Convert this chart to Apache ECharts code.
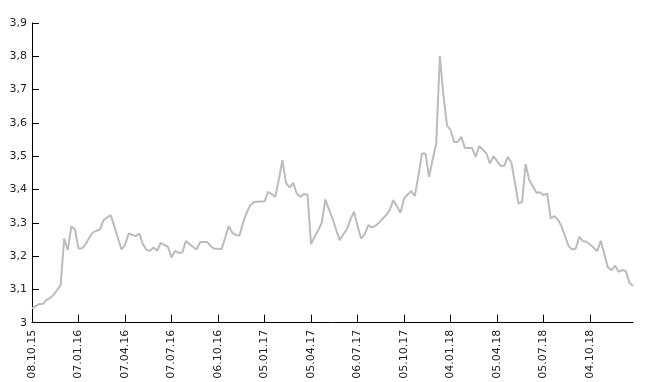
<!DOCTYPE html>
<html><head><meta charset="utf-8">
<script src="https://cdn.jsdelivr.net/npm/echarts@6/dist/echarts.min.js"></script>
<style>html,body{margin:0;padding:0;background:#fff}#c{width:653px;height:382px}</style>
</head><body><div id="c"></div>
<script>
// Tick labels shown on the x axis (every 13th weekly point)
const tickLabels = ['08.10.15','07.01.16','07.04.16','07.07.16','06.10.16','05.01.17','05.04.17','06.07.17','05.10.17','04.01.18','05.04.18','05.07.18','04.10.18'];
const startDate = [2015, 9, 8]; // 08.10.15, weekly observations
const pointCount = 169;
const values = [
3.043,3.05,3.056,3.056,3.068,3.074,3.083,3.098,3.113,3.253,
3.218,3.29,3.28,3.223,3.223,3.236,3.255,3.271,3.276,3.28,
3.308,3.316,3.323,3.29,3.255,3.22,3.233,3.268,3.264,3.26,
3.268,3.236,3.218,3.216,3.226,3.216,3.24,3.234,3.228,3.196,
3.216,3.21,3.21,3.245,3.236,3.228,3.22,3.242,3.242,3.242,
3.229,3.222,3.222,3.221,3.255,3.29,3.27,3.263,3.262,3.30,
3.33,3.352,3.362,3.363,3.364,3.364,3.393,3.386,3.378,3.43,
3.488,3.42,3.406,3.42,3.388,3.378,3.386,3.385,3.236,3.258,
3.278,3.30,3.37,3.34,3.313,3.28,3.248,3.265,3.28,3.31,
3.333,3.29,3.253,3.266,3.293,3.286,3.291,3.30,3.312,3.323,
3.338,3.368,3.35,3.33,3.373,3.385,3.395,3.38,3.44,3.508,
3.508,3.438,3.49,3.538,3.801,3.683,3.593,3.578,3.543,3.543,
3.558,3.525,3.525,3.525,3.498,3.53,3.52,3.508,3.478,3.50,
3.485,3.471,3.471,3.498,3.481,3.42,3.358,3.363,3.476,3.428,
3.41,3.39,3.392,3.383,3.388,3.313,3.32,3.31,3.29,3.26,
3.23,3.22,3.223,3.258,3.245,3.243,3.235,3.225,3.215,3.246,
3.205,3.166,3.158,3.171,3.153,3.158,3.155,3.12,3.11
];
const yTicks = {min: 3, max: 3.9, interval: 0.1};

function pad(n){return (n<10?'0':'')+n;}
const categories = [];
for (let i = 0; i < pointCount; i++) {
  const d = new Date(startDate[0], startDate[1], startDate[2] + 7*i);
  categories.push(pad(d.getDate())+'.'+pad(d.getMonth()+1)+'.'+String(d.getFullYear()).slice(2));
}
tickLabels.forEach((t, k) => { categories[k*13] = t; });

const chart = echarts.init(document.getElementById('c'), null, {renderer:'canvas'});
chart.setOption({
  animation: false,
  backgroundColor: '#fff',
  grid: {left: 32, right: 20, top: 23, bottom: 59.3, containLabel: false},
  xAxis: {
    type: 'category', data: categories, boundaryGap: false,
    axisLine: {lineStyle: {color: '#000', width: 1}},
    axisTick: {inside: true, length: 8, interval: 12, lineStyle: {color: '#000'}},
    axisLabel: {interval: 12, rotate: 90, margin: 7, color: '#222', fontSize: 11, fontFamily: 'DejaVu Sans'},
    splitLine: {show: false}
  },
  yAxis: {
    type: 'value', min: yTicks.min, max: yTicks.max, interval: yTicks.interval,
    axisLine: {show: true, lineStyle: {color: '#000', width: 1}},
    axisTick: {show: true, inside: true, length: 7, lineStyle: {color: '#000'}},
    axisLabel: {margin: 5, color: '#222', fontSize: 11, fontFamily: 'DejaVu Sans',
      formatter: v => String(Math.round(v*10)/10).replace('.', ',')},
    splitLine: {show: false}
  },
  series: [{
    type: 'line', data: values, showSymbol: false, symbol: 'none',
    lineStyle: {color: '#bcbcbc', width: 2}
  }]
});
</script></body></html>
